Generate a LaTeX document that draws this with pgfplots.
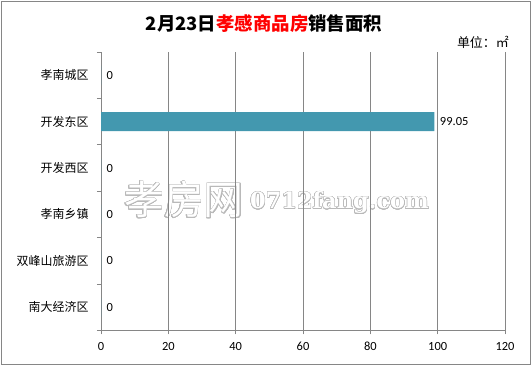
\documentclass[border=0pt]{standalone}
\usepackage{fontspec}
\setmainfont{Carlito}
\newfontfamily\cjk{Noto Sans CJK SC}
\newfontfamily\wmserif{DejaVu Serif}
\usepackage{pgfplots}
\pgfplotsset{compat=1.18}
\usepackage[copies]{contour}
\definecolor{barc}{HTML}{4398AF}
\definecolor{axgray}{HTML}{868686}
\contourlength{0.5bp}
\contournumber{24}
\begin{document}
\begin{tikzpicture}
\useasboundingbox (0bp,0bp) rectangle (532bp,366bp);
\draw[axgray, line width=1.3bp] (1.2bp,1.8bp) rectangle (530.5bp,364.8bp);
% watermark
\node[anchor=west, inner sep=0] at (124bp,166bp) {\cjk\fontsize{40}{44}\selectfont\contour{gray!55}{\textcolor{white}{孝房网}}};
\node[anchor=west, inner sep=0] at (250bp,163bp) {\wmserif\bfseries\fontsize{22.5}{27}\selectfont\contour{gray!55}{\textcolor{white}{0712fang.com}}};
% title
\node[font=\cjk\bfseries\fontsize{18.5}{22}\selectfont] at (264bp,342.5bp) {2月23日\textcolor{red}{孝感商品房}销售面积};
\node[anchor=east, inner sep=0, font=\cjk\fontsize{13}{15}\selectfont] at (509bp,323.5bp) {单位：㎡};
\begin{axis}[
  at={(101bp,35.5bp)}, anchor=south west,
  scale only axis, width=404bp, height=278.5bp,
  xmin=0, xmax=120, ymin=-0.5, ymax=5.5,
  xtick={0,20,...,120},
  ytick={0,...,5},
  yticklabels={南大经济区,双峰山旅游区,孝南乡镇,开发西区,开发东区,孝南城区},
  minor ytick={-0.5,0.5,...,5.5},
  axis x line*=bottom, axis y line*=left,
  xtick pos=bottom, ytick pos=left,
  axis line style={axgray, line width=0.9bp, -},
  xmajorgrids, grid style={axgray, line width=0.9bp},
  tick align=outside, major tick length=4bp, minor tick length=4bp,
  tick style={axgray, line width=0.9bp},
  major y tick style={draw=none},
  yticklabel style={font=\cjk\fontsize{12}{14}\selectfont, xshift=-5bp},
  xticklabel style={font=\fontsize{12.5}{14}\selectfont, yshift=-4bp},
  /pgf/number format/assume math mode=true,
  xbar, bar width=19bp,
  nodes near coords,
  nodes near coords style={font=\fontsize{12.5}{14}\selectfont, anchor=west, xshift=2bp, text=black},
]
\addplot[fill=barc, draw=none] coordinates {(0,0) (0,1) (0,2) (0,3) (99.05,4) (0,5)};
\end{axis}
\end{tikzpicture}
\end{document}
